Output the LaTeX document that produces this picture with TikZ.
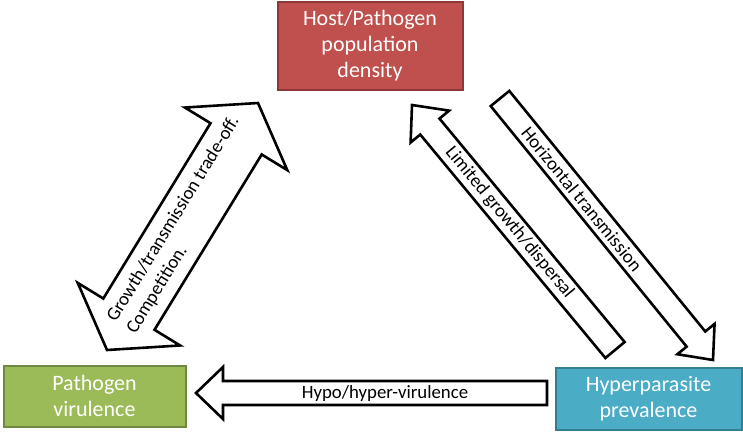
\documentclass[tikz,border=0pt]{standalone}
\usepackage{fontspec}
\setmainfont{Carlito}
\usetikzlibrary{calc}
\definecolor{hostred}{HTML}{C0504D}
\definecolor{hostredb}{HTML}{8C3836}
\definecolor{virgreen}{HTML}{9BBB59}
\definecolor{virgreenb}{HTML}{71893F}
\definecolor{hypblue}{HTML}{4BACC6}
\definecolor{hypblueb}{HTML}{357D91}
\tikzset{
  box/.style={draw, line width=2pt, text=white, align=center, inner sep=0pt,
    font=\fontsize{22}{26}\selectfont},
  barrow/.style={draw=black, fill=white, line width=2.6pt, line join=miter},
  atext/.style={font=\fontsize{18.8}{23}\selectfont, text=black, align=center, inner sep=0pt}
}
% single block arrow: tail, tip, shaft half width, head half width, head length
\newcommand\blockarrow[5]{%
  \coordinate (#1-h) at ($(#2)!#5!(#1)$);
  \draw[barrow] ($(#1)!#3!90:(#2)$) -- ($(#1-h)!#3!90:(#2)$) -- ($(#1-h)!#4!90:(#2)$)
    -- (#2) -- ($(#1-h)!#4!-90:(#2)$) -- ($(#1-h)!#3!-90:(#2)$) -- ($(#1)!#3!-90:(#2)$) -- cycle;
}
% double block arrow: tip1, tip2, shaft half width, head half width, head length
\newcommand\doubleblockarrow[5]{%
  \coordinate (#1-h) at ($(#1)!#5!(#2)$);
  \coordinate (#2-h) at ($(#2)!#5!(#1)$);
  \draw[barrow] (#1) -- ($(#1-h)!#4!90:(#2)$) -- ($(#1-h)!#3!90:(#2)$)
    -- ($(#2-h)!#3!-90:(#1)$) -- ($(#2-h)!#4!-90:(#1)$) -- (#2)
    -- ($(#2-h)!#4!90:(#1)$) -- ($(#2-h)!#3!90:(#1)$)
    -- ($(#1-h)!#3!-90:(#2)$) -- ($(#1-h)!#4!-90:(#2)$) -- cycle;
}
\begin{document}
\begin{tikzpicture}[x=1pt, y=-1pt]
\useasboundingbox (0,0) rectangle (743,432);

% boxes
\node[box, fill=hostred, draw=hostredb, minimum width=185pt, minimum height=88pt] (host) at (370,46) {Host/Pathogen\\population\\density};
\node[box, fill=virgreen, draw=virgreenb, minimum width=182pt, minimum height=61pt] (vir) at (94.5,396) {Pathogen\\virulence};
\node[box, fill=hypblue, draw=hypblueb, minimum width=186pt, minimum height=62pt] (hyp) at (648.5,398.5) {Hyperparasite\\prevalence};

% arrow endpoints
\coordinate (tailC) at (547,393);
\coordinate (tipC) at (196,393);
\coordinate (tailA) at (615,350);
\coordinate (tipA) at (412,105);
\coordinate (tailB) at (500,98.5);
\coordinate (tipB) at (713,360);
\coordinate (endL) at (107,350);
\coordinate (endU) at (258,103);

\blockarrow{tailC}{tipC}{12pt}{26pt}{27pt}
\blockarrow{tailA}{tipA}{12.5pt}{25pt}{28pt}
\blockarrow{tailB}{tipB}{12pt}{24pt}{27pt}
\doubleblockarrow{endL}{endU}{30pt}{60pt}{42pt}

% labels
\node[atext] (tC) at ($(tailC-h)!0.5!(tailC)$) {Hypo/hyper-virulence};
\path (tipA) -- node[atext, sloped, pos=0.48] (tA) {Limited growth/dispersal} (tailA);
\path (tailB) -- node[atext, sloped, pos=0.385] (tB) {Horizontal transmission} (tipB);
\path (endL) -- node[atext, align=left, sloped, pos=0.505] (tD) {Growth/transmission trade-off.\\Competition.} (endU);
\end{tikzpicture}
\end{document}
